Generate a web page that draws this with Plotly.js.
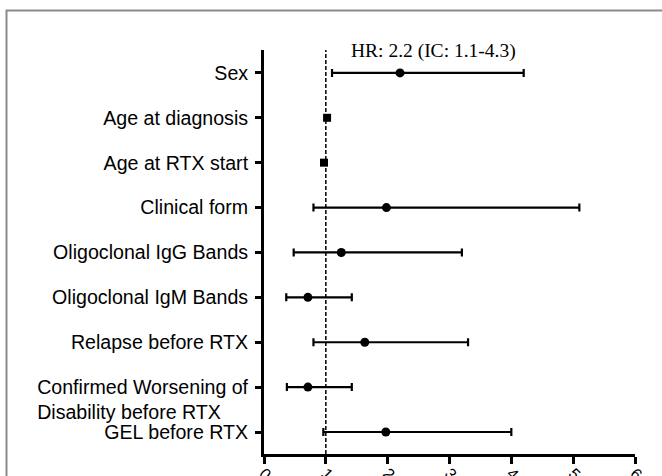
<!DOCTYPE html>
<html>
<head>
<meta charset="utf-8">
<script src="https://cdn.plot.ly/plotly-3.0.1.min.js"></script>
<style>
  html, body { margin: 0; padding: 0; background: #fff; }
  #chart { width: 662px; height: 476px; }
</style>
</head>
<body>
<div id="chart"></div>
<script>
// ---- data ----
const categories = [
  "Sex",
  "Age at diagnosis",
  "Age at RTX start",
  "Clinical form",
  "Oligoclonal IgG Bands",
  "Oligoclonal IgM Bands",
  "Relapse before RTX",
  "Confirmed Worsening of Disability before RTX",
  "GEL before RTX"
];
const tickLabels = [
  "Sex",
  "Age at diagnosis",
  "Age at RTX start",
  "Clinical form",
  "Oligoclonal IgG Bands",
  "Oligoclonal IgM Bands",
  "Relapse before RTX",
  "\u00a0<br>Confirmed Worsening of<br>Disability before RTX\u00a0\u00a0\u00a0\u00a0\u00a0",
  "GEL before RTX"
];
const hazardRatio = [2.2, 1.02, 0.97, 1.98, 1.25, 0.71, 1.63, 0.71, 1.97];
const ciLower     = [1.1, null, null, 0.8, 0.48, 0.36, 0.8, 0.37, 0.96];
const ciUpper     = [4.2, null, null, 5.1, 3.2, 1.42, 3.3, 1.42, 4.0];
const xTicks = [0, 1, 2, 3, 4, 5, 6];
const hrText = "HR: 2.2 (IC: 1.1-4.3)";

// ---- build traces ----
const withCI = [], noCI = [];
categories.forEach((c, i) => (ciLower[i] === null ? noCI : withCI).push(i));

const ciTrace = {
  type: "scatter", mode: "markers",
  x: withCI.map(i => hazardRatio[i]),
  y: withCI.map(i => categories[i]),
  marker: { symbol: "circle", size: 9, color: "#000" },
  error_x: {
    type: "data", symmetric: false,
    array: withCI.map(i => ciUpper[i] - hazardRatio[i]),
    arrayminus: withCI.map(i => hazardRatio[i] - ciLower[i]),
    color: "#000", thickness: 2.2, width: 4
  },
  hoverinfo: "x+y", showlegend: false
};
const sqTrace = {
  type: "scatter", mode: "markers",
  x: noCI.map(i => hazardRatio[i]),
  y: noCI.map(i => categories[i]),
  marker: { symbol: "square", size: 8, color: "#000" },
  hoverinfo: "x+y", showlegend: false
};

// plot area: x 264..635, y 50..454
const L = 264, R = 635, T = 50, B = 454;
const px = v => (v - L) / (R - L);
const py = v => (B - v) / (B - T);

const layout = {
  width: 662, height: 476,
  margin: { l: L, r: 662 - R, t: T, b: 476 - B, pad: 0 },
  paper_bgcolor: "#fff", plot_bgcolor: "#fff",
  font: { family: "Liberation Sans, Arial, sans-serif", color: "#000" },
  xaxis: {
    range: [0, 6], tickvals: xTicks, ticktext: xTicks.map(String),
    showgrid: false, zeroline: false,
    showline: true, linecolor: "#000", linewidth: 3,
    ticks: "outside", ticklen: 7, tickwidth: 3, tickcolor: "#000",
    tickangle: 45, tickfont: { size: 16, family: "Liberation Sans, Arial, sans-serif" },
    ticklabelstandoff: -6,
    fixedrange: true
  },
  yaxis: {
    type: "category", categoryorder: "array", categoryarray: categories,
    tickvals: categories, ticktext: tickLabels,
    range: [8.49, -0.51],
    showgrid: false, zeroline: false,
    showline: true, linecolor: "#000", linewidth: 3,
    ticks: "outside", ticklen: 6, tickwidth: 3, tickcolor: "#000",
    tickfont: { size: 19.6, family: "Liberation Sans, Arial, sans-serif" },
    ticklabelstandoff: 3,
    fixedrange: true
  },
  shapes: [
    { type: "line", xref: "x", yref: "paper", x0: 1, x1: 1, y0: 0, y1: 1,
      line: { color: "#000", width: 1.5, dash: "4px,2px" }, layer: "below" },
    { type: "rect", xref: "paper", yref: "paper",
      x0: px(6.5), x1: px(668), y0: py(482), y1: py(10.5),
      line: { color: "#8a8a8a", width: 2 }, fillcolor: "rgba(0,0,0,0)" }
  ],
  annotations: [
    { text: hrText, xref: "x", yref: "paper", x: 2.74, y: py(50.5),
      xanchor: "center", yanchor: "middle", showarrow: false,
      font: { family: "Liberation Serif, Times New Roman, serif", size: 19.5, color: "#000" } }
  ]
};

Plotly.newPlot("chart", [ciTrace, sqTrace], layout, { displayModeBar: false, staticPlot: true });
</script>
</body>
</html>
